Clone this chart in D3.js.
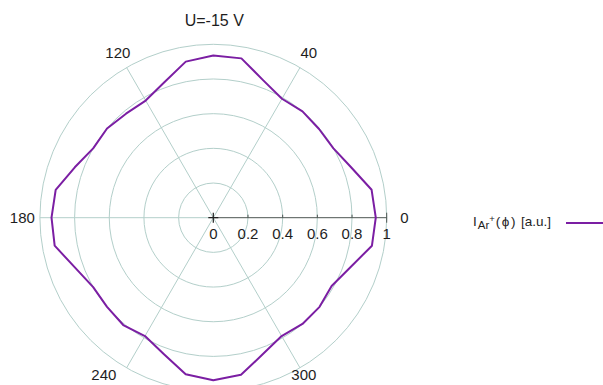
<!DOCTYPE html>
<html>
<head>
<meta charset="utf-8">
<script src="https://cdn.jsdelivr.net/npm/d3@7"></script>
<style>
  html, body { margin: 0; padding: 0; background: #fff; }
  svg { display: block; font-family: "Liberation Sans", Arial, sans-serif; }
</style>
</head>
<body>
<svg id="chart" width="603" height="385"></svg>
<script>
// Angles in degrees (counter-clockwise from the +x axis)
const angles = [0, 10, 20, 30, 40, 50, 60, 70, 80, 90, 100, 110, 120, 130, 140, 150, 160, 170,
                180, 190, 200, 210, 220, 230, 240, 250, 260, 270, 280, 290, 300, 310, 320, 330, 340, 350];
// Normalised ion current I_Ar+(phi)
const intensity = [0.937, 0.927, 0.847, 0.800, 0.796, 0.800, 0.792, 0.843, 0.933, 0.935, 0.914, 0.830,
                   0.780, 0.783, 0.800, 0.800, 0.850, 0.923, 0.933, 0.929, 0.847, 0.800, 0.800, 0.808,
                   0.788, 0.836, 0.917, 0.937, 0.920, 0.837, 0.788, 0.800, 0.800, 0.788, 0.840, 0.929];
const radialTicks = [0, 0.2, 0.4, 0.6, 0.8, 1];
const ringValues = [0.2, 0.4, 0.6, 0.8, 1];
const spokeAngles = [60, 120, 240, 300];
const angleLabelAngles = [0, 60, 120, 180, 240, 300];
const angleLabelTexts = ["0", "40", "120", "180", "240", "300"];
const title = "U=-15 V";

const svg = d3.select("#chart");
const cx = 213.3, cy = 217.7, R = 173.4;
const gridColor = "#b3cfca";
const lineColor = "#7b1ea3";
const textColor = "#1e1e1e";

const r = d3.scaleLinear().domain([0, 1]).range([0, R]);
const rad = d3.scaleLinear().domain([0, 360]).range([0, 2 * Math.PI]);

const g = svg.append("g").attr("transform", `translate(${cx},${cy})`);

// concentric rings
g.selectAll("circle.ring").data(ringValues).join("circle")
  .attr("class", "ring")
  .attr("r", d => r(d))
  .attr("fill", "none")
  .attr("stroke", gridColor)
  .attr("stroke-width", 1);

// spokes
g.selectAll("line.spoke").data(spokeAngles).join("line")
  .attr("class", "spoke")
  .attr("x1", 0).attr("y1", 0)
  .attr("x2", d => r(1) * Math.cos(rad(d)))
  .attr("y2", d => -r(1) * Math.sin(rad(d)))
  .attr("stroke", gridColor)
  .attr("stroke-width", 1);

// horizontal diameter
g.append("line")
  .attr("x1", -r(1)).attr("x2", 0).attr("y1", 0).attr("y2", 0)
  .attr("stroke", gridColor).attr("stroke-width", 1);

// radial axis (0 → 1) with ticks
g.append("line")
  .attr("x1", 0).attr("x2", r(1)).attr("y1", 0).attr("y2", 0)
  .attr("stroke", "#4d5552").attr("stroke-width", 1);
g.selectAll("line.rtick").data(radialTicks.slice(1)).join("line")
  .attr("class", "rtick")
  .attr("x1", d => r(d)).attr("x2", d => r(d))
  .attr("y1", d => d === 1 ? -5 : -3).attr("y2", d => d === 1 ? 5 : 0)
  .attr("stroke", "#4d5552").attr("stroke-width", 1);
g.selectAll("text.rlabel").data(radialTicks).join("text")
  .attr("class", "rlabel")
  .attr("x", d => r(d))
  .attr("y", 21)
  .attr("text-anchor", "middle")
  .attr("font-size", 15)
  .attr("fill", textColor)
  .text(d => d3.format("")(d));

// centre marker
g.append("path")
  .attr("d", "M-5,0H5M0,-5V5")
  .attr("stroke", "#222").attr("stroke-width", 1.2);

// angle labels (bottom ones nudged to stay inside the frame)
const labelNudgeX = [0, 0, 0, 0, -14, -5];
const labelNudgeY = [0, 0, 0, 0, -8, -8];
g.selectAll("text.alabel").data(angleLabelAngles).join("text")
  .attr("class", "alabel")
  .attr("x", (d, i) => 191 * Math.cos(rad(d)) + labelNudgeX[i])
  .attr("y", (d, i) => -191 * Math.sin(rad(d)) + labelNudgeY[i])
  .attr("dy", "0.36em")
  .attr("text-anchor", "middle")
  .attr("font-size", 15)
  .attr("fill", textColor)
  .text((d, i) => angleLabelTexts[i]);

// data curve
const data = angles.map((a, i) => ({ a, v: intensity[i] }));
const line = d3.lineRadial()
  .angle(d => Math.PI / 2 - rad(d.a))
  .radius(d => r(d.v))
  .curve(d3.curveLinearClosed);
g.append("path")
  .datum(data)
  .attr("d", line)
  .attr("fill", "none")
  .attr("stroke", lineColor)
  .attr("stroke-width", 2)
  .attr("stroke-linejoin", "round");

// title
svg.append("text")
  .attr("x", cx + 1).attr("y", 26)
  .attr("text-anchor", "middle")
  .attr("font-size", 16)
  .attr("fill", textColor)
  .text(title);

// legend
const leg = svg.append("text")
  .attr("x", 473).attr("y", 226)
  .attr("font-size", 13.5)
  .attr("fill", textColor);
leg.append("tspan").text("I");
leg.append("tspan").attr("font-size", 11.5).attr("dy", 3).attr("dx", 1).text("Ar");
leg.append("tspan").attr("font-size", 9.5).attr("dy", -7).text("+");
leg.append("tspan").attr("dy", 4).attr("dx", 1).attr("letter-spacing", 1.5).text("(\u03D5)");
leg.append("tspan").attr("dx", 4).text("[a.u.]");
svg.append("line")
  .attr("x1", 566).attr("x2", 603).attr("y1", 223).attr("y2", 223)
  .attr("stroke", lineColor).attr("stroke-width", 2);
</script>
</body>
</html>
